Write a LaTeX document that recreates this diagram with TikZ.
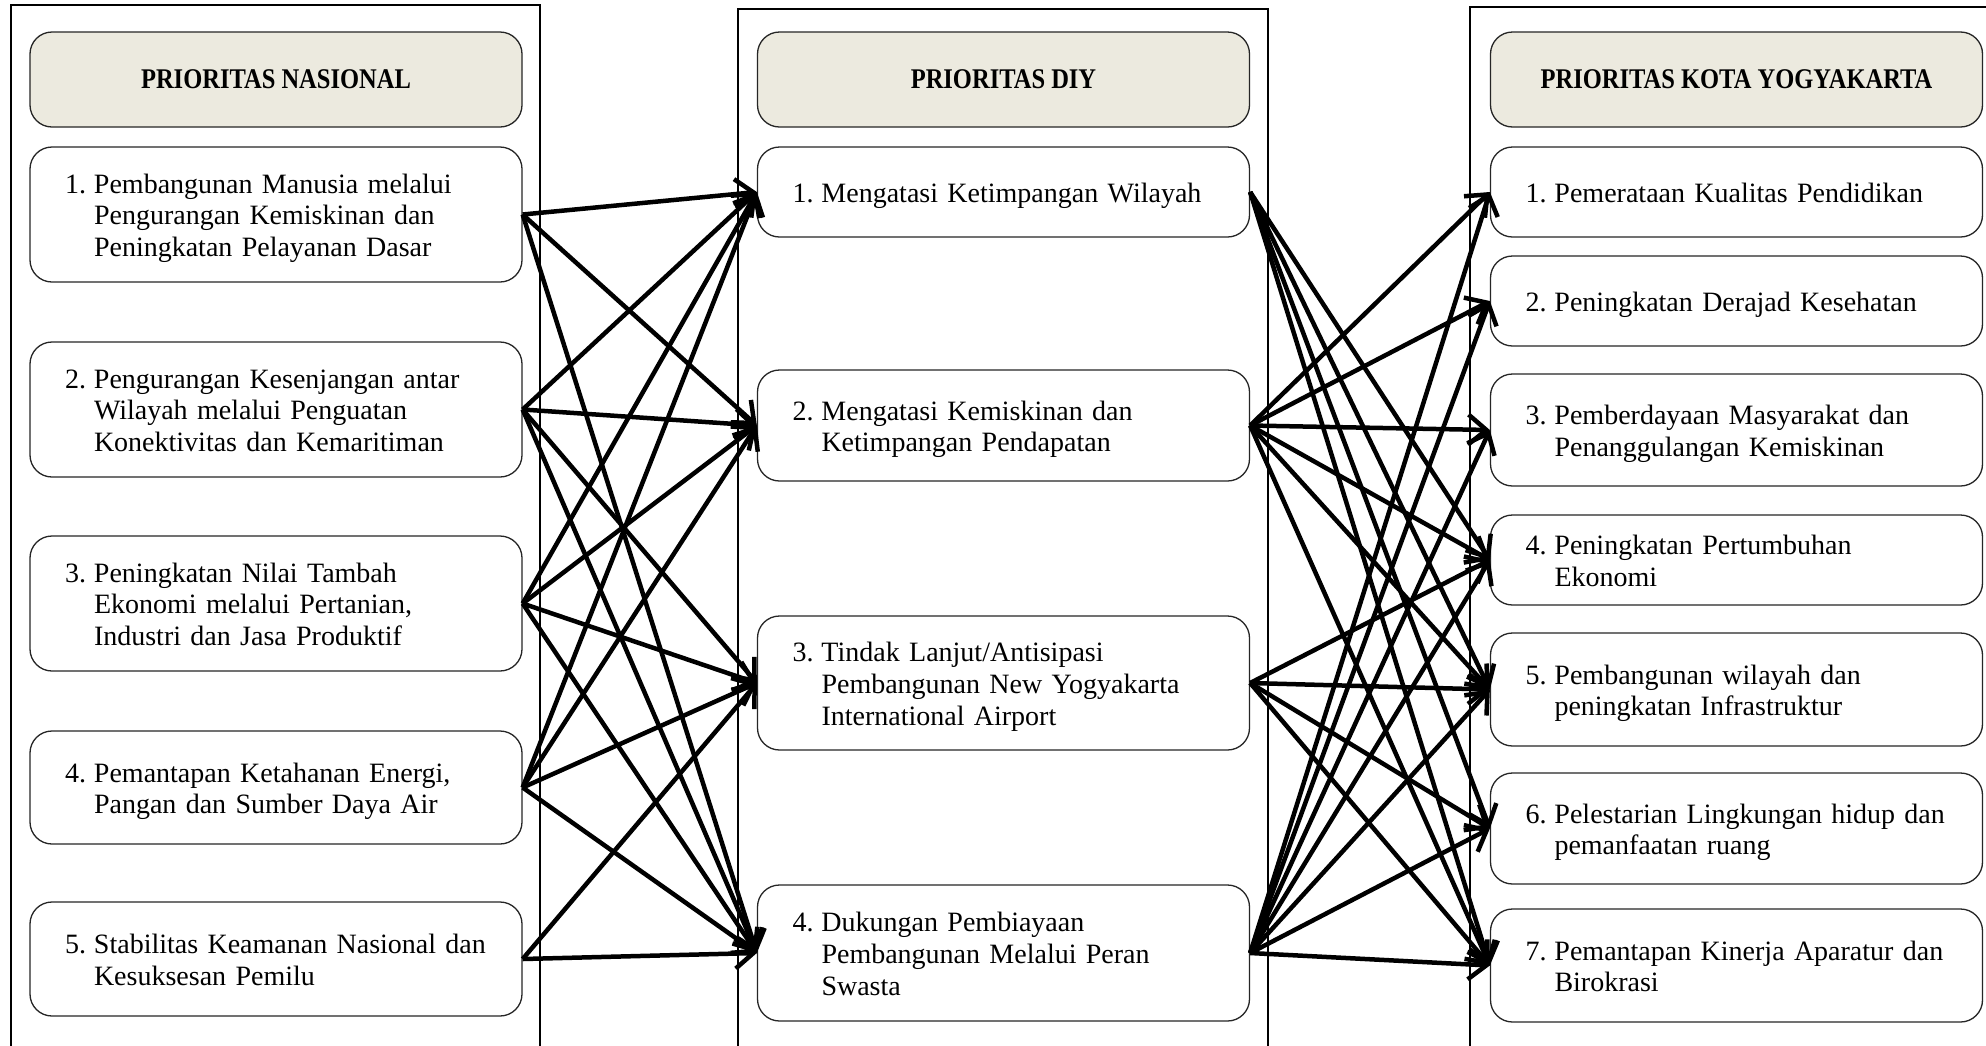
\documentclass[tikz,border=0pt]{standalone}
\usepackage{fontspec}
\setmainfont{Liberation Serif}
\newfontfamily\hdrfont[FakeStretch=0.86]{Liberation Serif}
\usetikzlibrary{arrows.meta}
\definecolor{hdr}{HTML}{ECEADF}
\newcommand\itm[2]{\raisebox{-4pt}[\height][\depth]{\begin{tabular}{@{}l@{}l@{}}\makebox[29pt][l]{#1}&\begin{tabular}[t]{@{}l@{}}#2\end{tabular}\end{tabular}}}
\tikzset{
 panel/.style={draw=black, line width=2pt},
 hbox/.style={draw=black!85, line width=1.3pt, rounded corners=22pt, fill=hdr, minimum width=492pt, minimum height=95pt, font=\hdrfont\bfseries\fontsize{28.5}{32}\selectfont},
 ibox/.style={draw=black!85, line width=1.3pt, rounded corners=22pt, fill=white, text width=422pt, inner xsep=35pt, inner ysep=0pt, align=left, font=\fontsize{28}{31.7}\selectfont},
 link/.style={line width=4.5pt, -{Straight Barb[length=18pt,width=30pt,line width=4.5pt]}},
}
\begin{document}
\begin{tikzpicture}[x=1pt,y=-1pt]
\useasboundingbox (0,0) rectangle (1986,1045);
\clip (0,0) rectangle (1986,1045);
\fill[white] (0,0) rectangle (1986,1045);
% panels
\draw[panel] (11,1070) -- (11,5) -- (540,5) -- (540,1070);
\draw[panel] (738,1070) -- (738,9) -- (1268,9) -- (1268,1070);
\draw[panel] (1470,1070) -- (1470,7) -- (2010,7);
% headers
\node[hbox] (hl) at (276,79.5) {PRIORITAS NASIONAL};
\node[hbox] (hm) at (1003.5,79.5) {PRIORITAS DIY};
\node[hbox] (hr) at (1736.5,79.5) {PRIORITAS KOTA YOGYAKARTA};
% left boxes
\node[ibox, minimum height=135pt] (L1) at (276,214.5) {\itm{1.}{Pembangunan Manusia melalui\\Pengurangan Kemiskinan dan\\Peningkatan Pelayanan Dasar}};
\node[ibox, minimum height=135pt] (L2) at (276,409.5) {\itm{2.}{Pengurangan Kesenjangan antar\\Wilayah melalui Penguatan\\Konektivitas dan Kemaritiman}};
\node[ibox, minimum height=135pt] (L3) at (276,603.5) {\itm{3.}{Peningkatan Nilai Tambah\\Ekonomi melalui Pertanian,\\Industri dan Jasa Produktif}};
\node[ibox, minimum height=113pt] (L4) at (276,787.5) {\itm{4.}{Pemantapan Ketahanan Energi,\\Pangan dan Sumber Daya Air}};
\node[ibox, minimum height=114pt] (L5) at (276,959) {\itm{5.}{Stabilitas Keamanan Nasional dan\\Kesuksesan Pemilu}};
% middle boxes
\node[ibox, minimum height=90pt] (M1) at (1003.5,192) {\itm{1.}{Mengatasi Ketimpangan Wilayah}};
\node[ibox, minimum height=111pt] (M2) at (1003.5,425.5) {\itm{2.}{Mengatasi Kemiskinan dan\\Ketimpangan Pendapatan}};
\node[ibox, minimum height=134pt] (M3) at (1003.5,683) {\itm{3.}{Tindak Lanjut/Antisipasi\\Pembangunan New Yogyakarta\\International Airport}};
\node[ibox, minimum height=136pt] (M4) at (1003.5,953) {\itm{4.}{Dukungan Pembiayaan\\Pembangunan Melalui Peran\\Swasta}};
% right boxes
\node[ibox, minimum height=90pt] (R1) at (1736.5,192) {\itm{1.}{Pemerataan Kualitas Pendidikan}};
\node[ibox, minimum height=90pt] (R2) at (1736.5,301) {\itm{2.}{Peningkatan Derajad Kesehatan}};
\node[ibox, minimum height=112pt] (R3) at (1736.5,430) {\itm{3.}{Pemberdayaan Masyarakat dan\\Penanggulangan Kemiskinan}};
\node[ibox, minimum height=90pt] (R4) at (1736.5,560) {\itm{4.}{Peningkatan Pertumbuhan\\Ekonomi}};
\node[ibox, minimum height=113pt] (R5) at (1736.5,689.5) {\itm{5.}{Pembangunan wilayah dan\\peningkatan Infrastruktur}};
\node[ibox, minimum height=111pt] (R6) at (1736.5,828.5) {\itm{6.}{Pelestarian Lingkungan hidup dan\\pemanfaatan ruang}};
\node[ibox, minimum height=113pt] (R7) at (1736.5,965.5) {\itm{7.}{Pemantapan Kinerja Aparatur dan\\Birokrasi}};
% left connectors
\foreach \a/\b in {L1/M1,L1/M2,L1/M4,L2/M1,L2/M2,L2/M3,L2/M4,L3/M1,L3/M2,L3/M3,L3/M4,L4/M1,L4/M2,L4/M3,L4/M4,L5/M3,L5/M4}
  \draw[link] (\a.east) -- (\b.west);
% right connectors
\foreach \a/\b in {M1/R4,M1/R5,M1/R6,M1/R7,M2/R1,M2/R2,M2/R3,M2/R4,M2/R5,M2/R7,M3/R4,M3/R5,M3/R6,M3/R7,M4/R1,M4/R2,M4/R3,M4/R4,M4/R5,M4/R6,M4/R7}
  \draw[link] (\a.east) -- (\b.west);
\end{tikzpicture}
\end{document}
